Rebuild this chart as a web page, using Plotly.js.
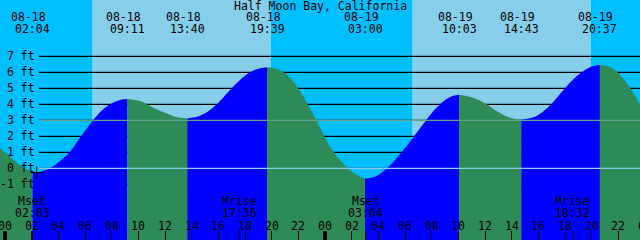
<!DOCTYPE html>
<html><head><meta charset="utf-8">
<script src="https://cdn.plot.ly/plotly-3.0.1.min.js"></script>
<style>html,body{margin:0;padding:0;background:#00BFFF}#chart{width:640px;height:240px}</style>
</head><body><div id="chart"></div>
<script>
// ---- data (hours since 08-18 00:00) ----
const title = 'Half Moon Bay, California';
const dayLabels = ['08-18', '08-19'];
const eventDates = ['08-18','08-18','08-18','08-18','08-19','08-19','08-19','08-19'];
const eventTimes = ['02:04','09:11','13:40','19:39','03:00','10:03','14:43','20:37'];
const eventFeet  = [-0.25, 4.33, 3.12, 6.31, -0.63, 4.60, 3.04, 6.45];

const readHours = [-0.375, 0.375, 1.125, 2.63, 3.375, 4.125, 4.875, 5.625, 6.375, 7.125, 7.875, 8.625,
  10.125, 11.125, 12.0, 12.75, 14.625, 15.375, 16.125, 16.875, 17.625, 18.375, 19.125,
  20.625, 21.375, 22.125, 22.875, 23.625, 24.375, 25.125, 25.875, 26.625,
  27.75, 28.5, 29.25, 30.0, 30.75, 31.5, 32.25, 33.0, 33.625,
  35.125, 36.0, 36.75, 37.5, 38.25, 39.75, 40.5, 41.25, 42.0, 42.75, 43.5, 44.125,
  45.5, 46.25, 47.0, 47.625];
const readFeet = [1.27, 0.73, 0.2, -0.21, 0.0, 0.46, 1.04, 1.91, 2.75, 3.5, 4.0, 4.27,
  4.2, 3.79, 3.47, 3.23, 3.29, 3.64, 4.2, 4.89, 5.52, 6.0, 6.25,
  6.14, 5.66, 4.83, 3.75, 2.55, 1.35, 0.52, -0.1, -0.52,
  -0.52, -0.1, 0.52, 1.25, 2.08, 2.91, 3.69, 4.27, 4.54,
  4.41, 4.06, 3.64, 3.29, 3.08, 3.23, 3.64, 4.27, 5.0, 5.66, 6.14, 6.39,
  6.29, 5.73, 4.89, 3.96];

const sunriseTimes = ['06:32', '06:32'];
const sunsetTimes  = ['19:57', '19:57'];

const moonDates = ['08-18','08-18','08-19','08-19'];
const moonNames = ['Mset','Mrise','Mset','Mrise'];
const moonTimes = ['02:03','17:36','03:04','18:32'];

const levelLabels = [7, 6, 5, 4, 3, 2, 1, 0, -1];
const hourTicks = [0,2,4,6,8,10,12,14,16,18,20,22,24,26,28,30,32,34,36,38,40,42,44,46,48];
const hourLabels = ['00','02','04','06','08','10','12','14','16','18','20','22',
                    '00','02','04','06','08','10','12','14','16','18','20','22','00'];
const midnights = [0, 24];
const msl = 3;          // mid line
const datum = 0;        // datum line
const nowMark = {h: 2.38, ft: -0.27};

// ---- build ----
const X0 = -0.375, X1 = 47.625, Y0 = -4.48, Y1 = 10.52;
const W = 640, H = 240;
const NIGHT = '#00BFFF', DAY = '#87CEEB', FLOOD = '#0000FF', EBB = '#2E8B57';
const FONT = {family: 'DejaVu Sans Mono, monospace', size: 11.5, color: '#000'};

function toH(date, hhmm) {
  const d = dayLabels.indexOf(date);
  const [hh, mm] = hhmm.split(':').map(Number);
  return d * 24 + hh + mm / 60;
}
const px = h => (h - X0) / (X1 - X0);       // hours -> paper x
const py = p => 1 - p / H;                   // pixel row -> paper y

const extX = eventTimes.map((t, i) => toH(eventDates[i], t));
let pts = readHours.map((h, i) => [h, readFeet[i]]).concat(extX.map((h, i) => [h, eventFeet[i]]));
pts.sort((a, b) => a[0] - b[0]);

const bounds = [X0].concat(extX).concat([X1]);
const traces = [];
for (let j = 0; j < bounds.length - 1; j++) {
  const seg = pts.filter(p => p[0] >= bounds[j] - 1e-9 && p[0] <= bounds[j + 1] + 1e-9);
  const sx = seg.map(p => p[0]), sy = seg.map(p => p[1]);
  const rising = sy[sy.length - 1] > sy[0];
  traces.push({x: [sx[0], sx[sx.length - 1]], y: [Y0 - 2, Y0 - 2], mode: 'lines',
    line: {width: 0}, hoverinfo: 'skip', showlegend: false});
  traces.push({x: sx, y: sy, mode: 'lines', fill: 'tonexty', fillcolor: rising ? FLOOD : EBB,
    line: {width: 0, shape: 'spline', color: rising ? FLOOD : EBB}, hoverinfo: 'skip', showlegend: false});
}
traces.push({x: [nowMark.h], y: [nowMark.ft], mode: 'markers', showlegend: false, hoverinfo: 'skip',
  marker: {symbol: 'cross-thin', size: 9, line: {width: 1, color: '#000'}}});
traces.push({x: [], y: [], xaxis: 'x2', showlegend: false});
traces.push({x: [], y: [], xaxis: 'x3', showlegend: false});

const shapes = [];
sunriseTimes.forEach((t, i) => {
  shapes.push({type: 'rect', layer: 'below', xref: 'x', yref: 'paper',
    x0: toH(dayLabels[i], t), x1: toH(dayLabels[i], sunsetTimes[i]), y0: 0, y1: 1,
    fillcolor: DAY, line: {width: 0}});
});
const lineStart = 39 / W;
levelLabels.forEach(v => {
  shapes.push({type: 'line', layer: 'below', xref: 'paper', yref: 'y', x0: lineStart, x1: 1, y0: v, y1: v,
    line: {color: '#000', width: 1.3}});
});
shapes.push({type: 'line', layer: 'above', xref: 'paper', yref: 'y', x0: lineStart, x1: 1, y0: msl, y1: msl,
  line: {color: '#5FA08F', width: 1.3}});
shapes.push({type: 'line', layer: 'above', xref: 'paper', yref: 'y', x0: lineStart, x1: 1, y0: datum, y1: datum,
  line: {color: '#87CEEB', width: 1.3}});

const ann = [];
const A = (o) => Object.assign({showarrow: false, font: FONT, xanchor: 'center', yanchor: 'middle'}, o);
ann.push(A({xref: 'paper', yref: 'paper', x: 0.5, y: py(5.5), text: title}));
extX.forEach((h, i) => {
  ann.push(A({xref: 'paper', yref: 'paper', x: px(h), xshift: -4, y: py(17.5), text: eventDates[i]}));
  ann.push(A({xref: 'paper', yref: 'paper', x: px(h), y: py(29), text: eventTimes[i]}));
});
levelLabels.forEach(v => {
  ann.push(A({xref: 'paper', yref: 'y', x: 36.5 / W, xanchor: 'right', y: v, text: v + ' ft'}));
});
moonTimes.forEach((t, i) => {
  const h = toH(moonDates[i], t);
  ann.push(A({xref: 'paper', yref: 'paper', x: px(h), y: py(201), text: moonNames[i]}));
  ann.push(A({xref: 'paper', yref: 'paper', x: px(h), y: py(213), text: t}));
});
hourTicks.forEach((h, i) => {
  ann.push(A({xref: 'paper', yref: 'paper', x: px(h), y: py(225.8), text: hourLabels[i]}));
});

const axBase = {range: [X0, X1], showgrid: false, zeroline: false, showline: false, showticklabels: false,
  ticks: 'inside', ticklen: 9, tickcolor: '#000', tickmode: 'array', fixedrange: true};
const layout = {
  width: W, height: H, margin: {l: 0, r: 0, t: 0, b: 0, pad: 0},
  paper_bgcolor: NIGHT, plot_bgcolor: NIGHT, showlegend: false,
  xaxis: Object.assign({}, axBase, {tickvals: hourTicks, tickwidth: 1}),
  xaxis2: Object.assign({}, axBase, {overlaying: 'x', anchor: 'y', side: 'bottom', tickvals: midnights, tickwidth: 3.5}),
  xaxis3: Object.assign({}, axBase, {overlaying: 'x', anchor: 'y', side: 'bottom',
    tickvals: moonTimes.map((t, i) => toH(moonDates[i], t)), tickwidth: 1}),
  yaxis: {range: [Y0, Y1], visible: false, fixedrange: true},
  shapes: shapes, annotations: ann
};
Plotly.newPlot('chart', traces, layout, {displayModeBar: false, staticPlot: true});
</script></body></html>
